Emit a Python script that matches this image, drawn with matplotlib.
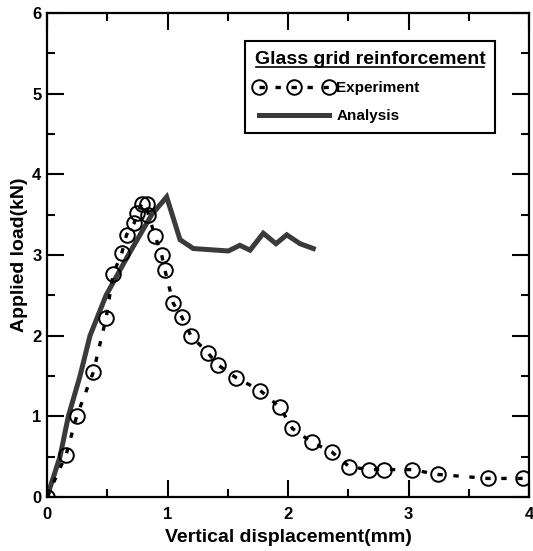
import matplotlib
matplotlib.use("Agg")
import matplotlib.pyplot as plt
from matplotlib.lines import Line2D
from matplotlib.ticker import MultipleLocator

# ---- data ----
exp_x = [0.0, 0.158, 0.246, 0.385, 0.49, 0.55, 0.62, 0.66, 0.725, 0.744, 0.786, 0.827,
         0.841, 0.896, 0.952, 0.979, 1.048, 1.118, 1.195, 1.339, 1.416, 1.568, 1.77,
         1.934, 2.036, 2.196, 2.362, 2.509, 2.672, 2.80, 3.026, 3.242, 3.662, 3.953]
exp_y = [0.0, 0.52, 1.00, 1.55, 2.215, 2.77, 3.02, 3.25, 3.40, 3.52, 3.63, 3.63,
         3.50, 3.24, 3.00, 2.81, 2.40, 2.235, 1.996, 1.78, 1.64, 1.48, 1.32,
         1.11, 0.85, 0.68, 0.56, 0.375, 0.34, 0.34, 0.34, 0.28, 0.23, 0.23]

ana_x = [0.0, 0.108, 0.177, 0.274, 0.357, 0.49, 0.675, 0.869, 0.993, 1.104, 1.214,
         1.505, 1.60, 1.685, 1.795, 1.90, 1.99, 2.10, 2.21]
ana_y = [0.0, 0.5, 1.0, 1.5, 2.0, 2.5, 3.0, 3.5, 3.72, 3.19, 3.08,
         3.05, 3.12, 3.06, 3.27, 3.14, 3.25, 3.14, 3.08]

xticks = [0, 1, 2, 3, 4]
yticks = [0, 1, 2, 3, 4, 5, 6]
legend_title = "Glass grid reinforcement"
labels = ["Experiment", "Analysis"]
xlabel = "Vertical displacement(mm)"
ylabel = "Applied load(kN)"

plt.rcParams['font.family'] = ['Liberation Sans', 'DejaVu Sans']
plt.rcParams['font.weight'] = 'bold'

fig = plt.figure(figsize=(5.33, 5.51), dpi=100)
ax = fig.add_axes([47/533, 54/551, 482/533, 484/551])

exp_line, = ax.plot(exp_x, exp_y, color='black', lw=2.4, linestyle=(0, (1.6, 3.2)),
                    marker='o', markersize=10.5, markerfacecolor='none',
                    markeredgecolor='black', markeredgewidth=1.4, zorder=3)
ana_line, = ax.plot(ana_x, ana_y, color='#3a3a3a', lw=3.6, solid_joinstyle='miter',
                    zorder=2)

ax.set_xlim(0, 4)
ax.set_ylim(0, 6)
ax.set_xticks(xticks)
ax.set_xticklabels([str(v) for v in xticks], fontweight='bold', fontsize=12)
ax.set_yticks(yticks)
ax.set_yticklabels([str(v) for v in yticks], fontweight='bold', fontsize=12)
ax.xaxis.set_minor_locator(MultipleLocator(0.5))
ax.yaxis.set_minor_locator(MultipleLocator(0.5))
ax.tick_params(which='both', direction='in', top=True, right=True, width=1.5)
ax.tick_params(which='major', length=12)
ax.tick_params(which='minor', length=6)
ax.tick_params(axis='x', pad=7)
ax.tick_params(axis='y', pad=4)
for s in ax.spines.values():
    s.set_linewidth(1.6)

ax.set_xlabel(xlabel, fontsize=14, fontweight='bold', labelpad=5)
ax.set_ylabel(ylabel, fontsize=14, fontweight='bold', labelpad=3)

leg = ax.legend([exp_line, ana_line], labels, title=legend_title,
                loc='upper left', bbox_to_anchor=(0.411, 0.942), borderaxespad=0,
                prop={'size': 11, 'weight': 'bold'},
                title_fontproperties={'size': 14, 'weight': 'bold'},
                numpoints=3, handlelength=5.2, handletextpad=0.15,
                frameon=True, fancybox=False, edgecolor='black', framealpha=1,
                borderpad=0.62, labelspacing=0.9)
leg.get_frame().set_linewidth(1.5)
leg._legend_box.align = "left"

fig.canvas.draw()
tb = leg.get_title().get_window_extent()
inv = fig.transFigure.inverted()
(x0, y0) = inv.transform((tb.x0 + 1, tb.y0 + 1))
(x1, _) = inv.transform((tb.x1 - 1, tb.y0 + 1))
fig.add_artist(Line2D([x0, x1], [y0, y0], color='black', lw=1.2,
                      transform=fig.transFigure))

fig.savefig("out.png", dpi=100)
